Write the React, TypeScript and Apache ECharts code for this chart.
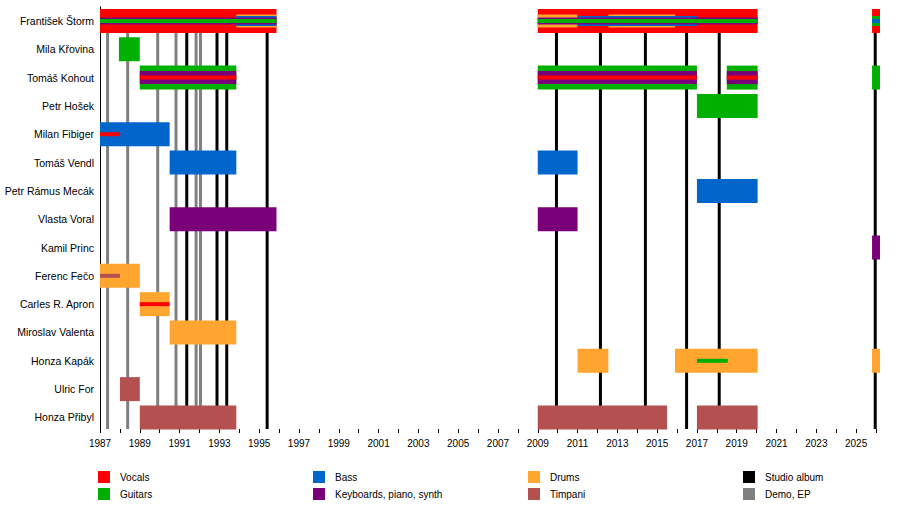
import { useEffect, useRef } from 'react'
import * as echarts from 'echarts'

type Layer = 'full' | 'wide' | 'mid' | 'narrow' | 'thin'
type Stint = [string, number, number, Layer]

const END = 2026.2

const members = [
  'František Štorm',
  'Mila Křovina',
  'Tomáš Kohout',
  'Petr Hošek',
  'Milan Fibiger',
  'Tomáš Vendl',
  'Petr Rámus Mecák',
  'Vlasta Voral',
  'Kamil Princ',
  'Ferenc Fečo',
  'Carles R. Apron',
  'Miroslav Valenta',
  'Honza Kapák',
  'Ulric For',
  'Honza Přibyl'
]

const vocals: Stint[] = [
  ['František Štorm', 1987, 1995.87, 'full'],
  ['František Štorm', 2009, 2020.05, 'full'],
  ['František Štorm', 2025.8, END, 'full'],
  ['Tomáš Kohout', 1989, 1993.85, 'thin'],
  ['Tomáš Kohout', 2009, 2017, 'thin'],
  ['Tomáš Kohout', 2018.5, 2020.05, 'thin'],
  ['Milan Fibiger', 1987, 1988, 'thin'],
  ['Carles R. Apron', 1989, 1990.5, 'thin']
]

const guitars: Stint[] = [
  ['František Štorm', 1987, 1995.87, 'thin'],
  ['František Štorm', 2009, 2020.05, 'thin'],
  ['František Štorm', 2025.8, END, 'mid'],
  ['Mila Křovina', 1987.95, 1989, 'full'],
  ['Tomáš Kohout', 1989, 1993.85, 'full'],
  ['Tomáš Kohout', 2009, 2017, 'full'],
  ['Tomáš Kohout', 2018.5, 2020.05, 'full'],
  ['Tomáš Kohout', 2025.8, END, 'full'],
  ['Petr Hošek', 2017, 2020.05, 'full'],
  ['Honza Kapák', 2017, 2018.55, 'thin']
]

const bass: Stint[] = [
  ['František Štorm', 1993.85, 1995.87, 'mid'],
  ['František Štorm', 2011, 2017, 'mid'],
  ['František Štorm', 2025.8, END, 'thin'],
  ['Milan Fibiger', 1987, 1990.5, 'full'],
  ['Tomáš Vendl', 1990.5, 1993.85, 'full'],
  ['Tomáš Vendl', 2009, 2011, 'full'],
  ['Petr Rámus Mecák', 2017, 2020.05, 'full']
]

const keyboards: Stint[] = [
  ['František Štorm', 1987, 1995.87, 'narrow'],
  ['František Štorm', 2009, 2020.05, 'narrow'],
  ['Tomáš Kohout', 1989, 1993.85, 'wide'],
  ['Tomáš Kohout', 2009, 2017, 'wide'],
  ['Tomáš Kohout', 2018.5, 2020.05, 'wide'],
  ['Vlasta Voral', 1990.5, 1995.87, 'full'],
  ['Vlasta Voral', 2009, 2011, 'full'],
  ['Kamil Princ', 2025.8, END, 'full']
]

const drums: Stint[] = [
  ['František Štorm', 1993.85, 1995.87, 'wide'],
  ['František Štorm', 2009, 2011, 'wide'],
  ['František Štorm', 2012.55, 2015.9, 'wide'],
  ['Ferenc Fečo', 1987, 1989, 'full'],
  ['Carles R. Apron', 1989, 1990.5, 'full'],
  ['Miroslav Valenta', 1990.5, 1993.85, 'full'],
  ['Honza Kapák', 2011, 2012.55, 'full'],
  ['Honza Kapák', 2015.9, 2020.05, 'full'],
  ['Honza Kapák', 2025.8, END, 'full']
]

const timpani: Stint[] = [
  ['Ferenc Fečo', 1987, 1988, 'thin'],
  ['Ulric For', 1988, 1989, 'full'],
  ['Honza Přibyl', 1989, 1993.85, 'full'],
  ['Honza Přibyl', 2009, 2015.5, 'full'],
  ['Honza Přibyl', 2017, 2020.05, 'full']
]

const studioAlbums = [1991.36, 1992.88, 1993.37, 1995.4, 2009.94, 2012.15, 2014.41, 2016.48, 2018.12, 2025.96]
const demos = [1987.38, 1988.39, 1989.9, 1990.82, 1991.83, 1992.05]

const LAYER_HEIGHT: Record<Layer, number> = { full: 24, wide: 13, mid: 10, narrow: 7, thin: 4 }
const FONT = 'Liberation Sans, Arial, sans-serif'
const AXIS_SHIFT = 2.6

export default function App() {
  const chartRef = useRef<HTMLDivElement>(null)

  useEffect(() => {
    if (!chartRef.current) return
    document.body.style.margin = '0'
    const chart = echarts.init(chartRef.current, undefined, { renderer: 'svg' })

    // 角色条
    const roleSeries = (name: string, color: string, stints: Stint[]) => ({
      name,
      type: 'custom',
      itemStyle: { color },
      encode: { x: [0, 2], y: 1 },
      data: stints.map(([who, from, to, layer]) => [from, members.indexOf(who), to, LAYER_HEIGHT[layer]]),
      renderItem: (_params: any, api: any) => {
        const h = api.value(3)
        const a = api.coord([api.value(0), api.value(1)])
        const b = api.coord([api.value(2), api.value(1)])
        return {
          type: 'rect',
          shape: { x: a[0], y: a[1] - h / 2, width: b[0] - a[0], height: h },
          style: { fill: color },
          z2: 100 - h
        }
      }
    })

    // 专辑竖线
    const lineSeries = (name: string, color: string, years: number[]) => ({
      name,
      type: 'custom',
      z: 1,
      itemStyle: { color },
      encode: { x: 0, y: 1 },
      data: years.map(y => [y, 0]),
      renderItem: (params: any, api: any) => {
        const p = api.coord([api.value(0), 0])
        const cs = params.coordSys
        return {
          type: 'line',
          shape: { x1: p[0], y1: p[1] - 12, x2: p[0], y2: cs.y + cs.height - AXIS_SHIFT },
          style: { stroke: color, lineWidth: 3 }
        }
      }
    })

    const legendBase = {
      orient: 'vertical' as const,
      top: 471,
      padding: 0,
      itemWidth: 12,
      itemHeight: 12,
      itemGap: 5,
      icon: 'rect',
      selectedMode: false,
      textStyle: { fontSize: 10, color: '#000', fontFamily: FONT, padding: [0, 0, 0, 5] }
    }

    const option: any = {
      animation: false,
      backgroundColor: '#ffffff',
      grid: { left: 100, right: 20, top: 6.8, height: 424.8 },
      xAxis: {
        type: 'value',
        min: 1987,
        max: END,
        interval: 1,
        offset: -AXIS_SHIFT,
        axisLine: { lineStyle: { color: '#000', width: 1 } },
        axisTick: { show: true, length: 4, lineStyle: { color: '#000' } },
        splitLine: { show: false },
        axisLabel: {
          fontSize: 10,
          color: '#000',
          fontFamily: FONT,
          margin: 9,
          showMaxLabel: false,
          formatter: (v: number) => {
            const r = Math.round(v)
            return Math.abs(v - r) < 1e-6 && r % 2 === 1 ? String(r) : ''
          }
        }
      },
      yAxis: {
        type: 'category',
        data: members,
        inverse: true,
        axisLine: { lineStyle: { color: '#000', width: 1 } },
        axisTick: { show: false },
        axisLabel: { fontSize: 10.5, color: '#000', fontFamily: FONT, margin: 6 }
      },
      legend: [
        { ...legendBase, left: 98, data: ['Vocals', 'Guitars'] },
        { ...legendBase, left: 313, data: ['Bass', 'Keyboards, piano, synth'] },
        { ...legendBase, left: 528, data: ['Drums', 'Timpani'] },
        { ...legendBase, left: 743, data: ['Studio album', 'Demo, EP'] }
      ],
      series: [
        lineSeries('Studio album', '#000000', studioAlbums),
        lineSeries('Demo, EP', '#808080', demos),
        roleSeries('Vocals', '#ff0000', vocals),
        roleSeries('Guitars', '#00b000', guitars),
        roleSeries('Bass', '#0066cc', bass),
        roleSeries('Keyboards, piano, synth', '#7a007a', keyboards),
        roleSeries('Drums', '#ffa530', drums),
        roleSeries('Timpani', '#b55050', timpani)
      ]
    }

    chart.setOption(option)

    return () => {
      chart.dispose()
    }
  }, [])

  return <div ref={chartRef} style={{ width: '900px', height: '508px' }} />
}
